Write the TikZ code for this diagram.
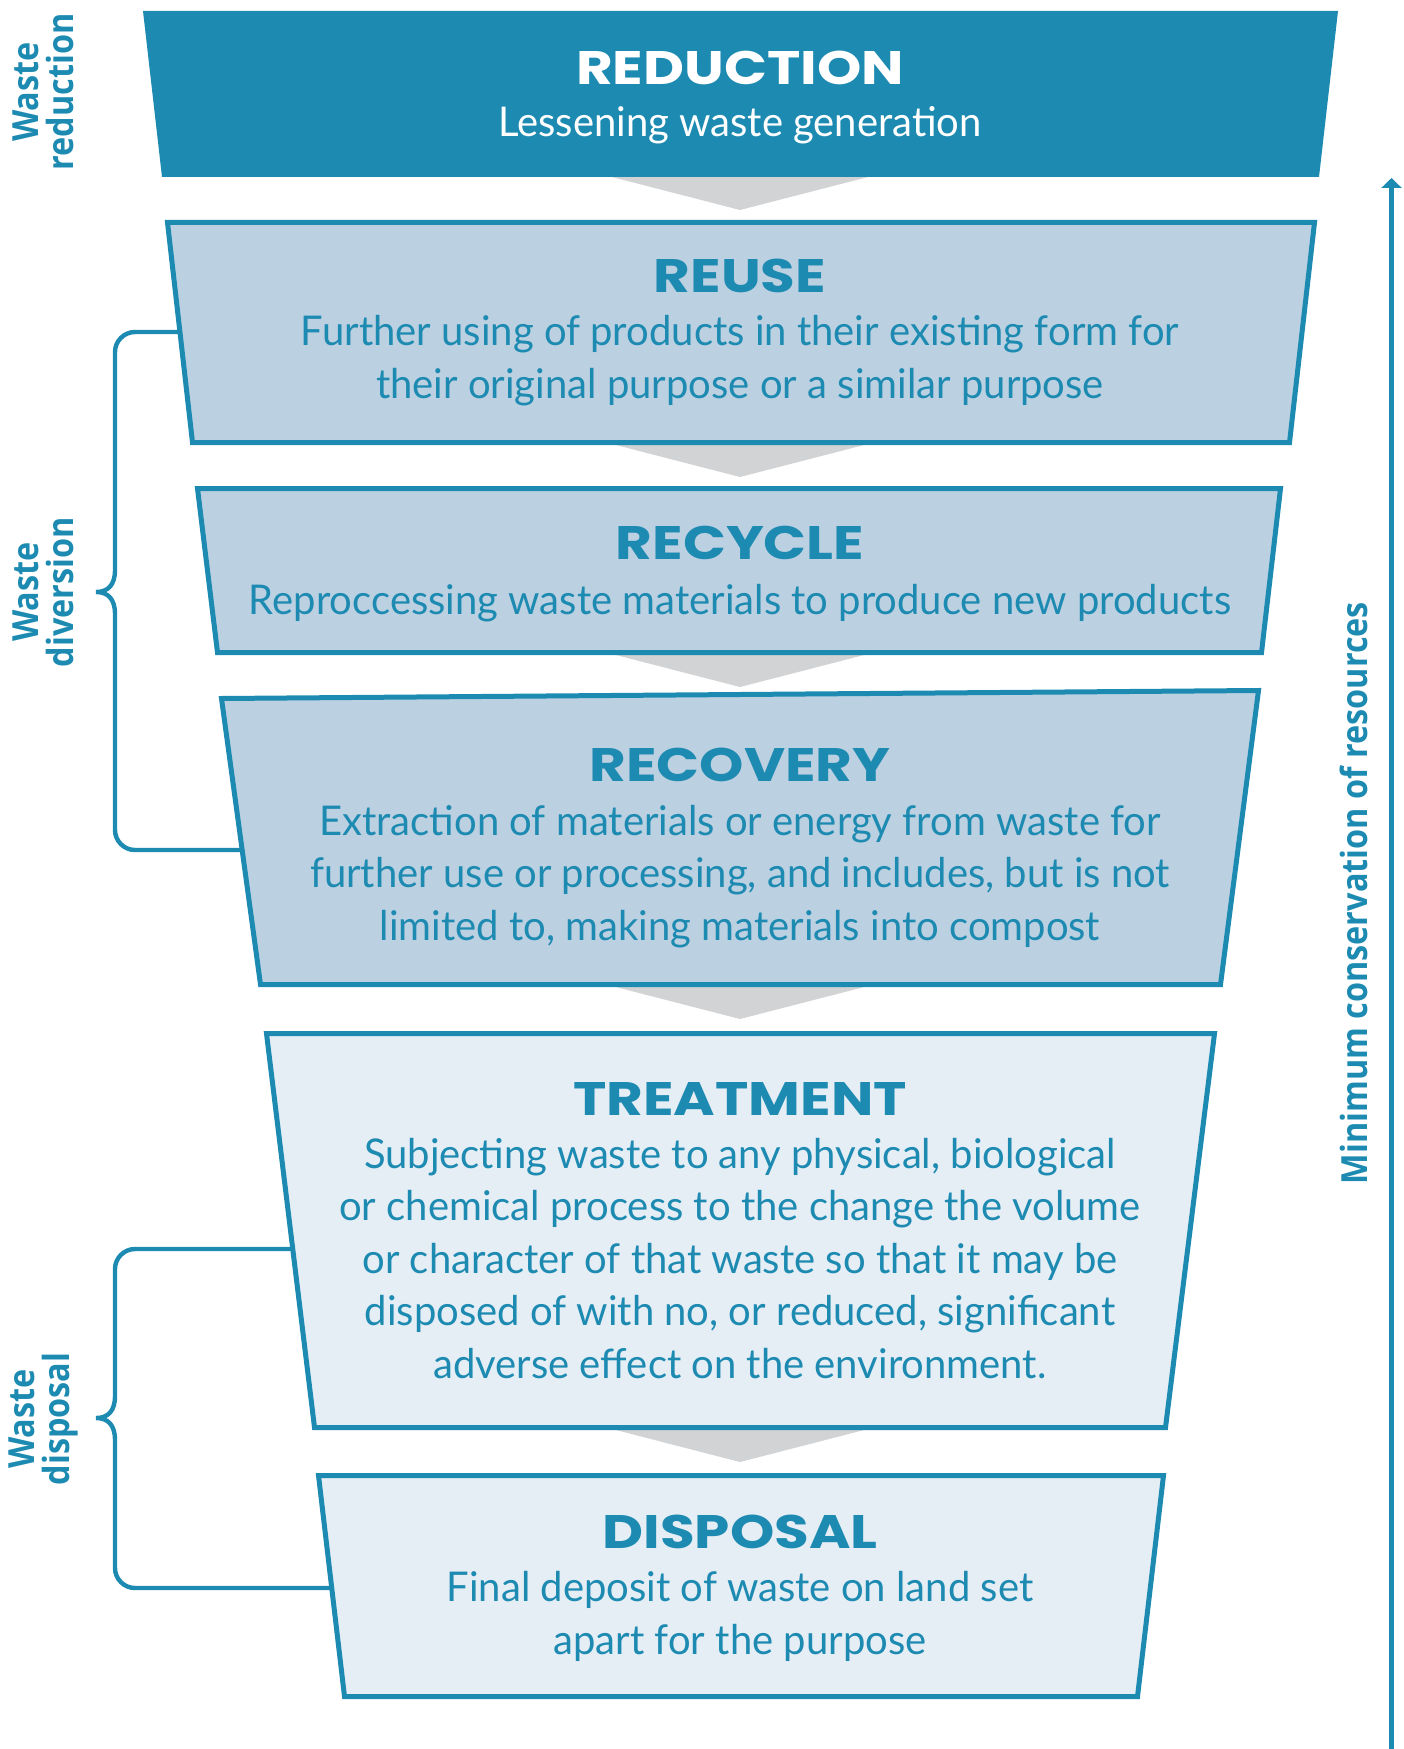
\documentclass[tikz,border=0pt]{standalone}
\usepackage{fontspec}
\setmainfont{Lato}[FakeStretch=0.975]
\newfontfamily\headfont{Poppins}[FakeStretch=1.2]
\newfontfamily\sidefont{Open Sans}[FakeStretch=0.9]
\usetikzlibrary{arrows.meta}
\definecolor{hblue}{HTML}{1D8AB1}
\definecolor{lblue}{HTML}{BBD0E1}
\definecolor{llblue}{HTML}{E5EDF5}
\definecolor{cgray}{HTML}{D1D3D4}
\tikzset{
  boxA/.style={fill=hblue},
  boxB/.style={draw=hblue, line width=2.5pt, fill=lblue},
  boxC/.style={draw=hblue, line width=2.5pt, fill=llblue},
  chev/.style={fill=cgray},
  head/.style={anchor=base, inner sep=0pt, font=\headfont\bfseries\fontsize{23.5}{27}\selectfont},
  body/.style={anchor=base, inner sep=0pt, font=\fontsize{20.5}{26}\selectfont},
  side/.style={rotate=90, align=center, inner sep=0pt, text=hblue, font=\sidefont\bfseries\fontsize{18}{17.5}\selectfont},
  bracel/.style={draw=hblue, line width=2.2pt},
}
\begin{document}
\begin{tikzpicture}[x=0.5pt,y=-0.5pt]
\useasboundingbox (0,0) rectangle (1403,1749);
% chevrons
\fill[chev] (612,177) -- (868,177) -- (740,210) -- cycle;
\fill[chev] (612,444) -- (868,444) -- (740,477) -- cycle;
\fill[chev] (612,654) -- (868,654) -- (740,687) -- cycle;
\fill[chev] (612,986) -- (868,986) -- (740,1019) -- cycle;
\fill[chev] (612,1429) -- (868,1429) -- (740,1462) -- cycle;
% braces
\coordinate (divA) at (181,332);
\coordinate (divB) at (242,850);
\coordinate (dspA) at (292,1249);
\coordinate (dspB) at (332,1588);
\draw[bracel] (divA) -- (135,332) .. controls (124,332) and (115,341) .. (115,352) -- (115,570)
  .. controls (115,585) and (108,592) .. (96,592) .. controls (108,592) and (115,599) .. (115,614)
  -- (115,830) .. controls (115,841) and (124,850) .. (135,850) -- (divB);
\draw[bracel] (dspA) -- (135,1249) .. controls (124,1249) and (115,1258) .. (115,1269) -- (115,1396)
  .. controls (115,1411) and (108,1418) .. (96,1418) .. controls (108,1418) and (115,1425) .. (115,1440)
  -- (115,1568) .. controls (115,1579) and (124,1588) .. (135,1588) -- (dspB);
% boxes
\fill[boxA] (143,11) -- (1338,11) -- (1319,177) -- (162,177) -- cycle;
\draw[boxB] (167.5,222.5) -- (1314.5,222.5) -- (1289.5,442.5) -- (192.5,442.5) -- cycle;
\draw[boxB] (197.5,488.5) -- (1280.5,488.5) -- (1261.5,652.5) -- (217.5,652.5) -- cycle;
\draw[boxB] (221.5,698.5) -- (1258.5,690.5) -- (1220.5,984.5) -- (260.5,984.5) -- cycle;
\draw[boxC] (266.5,1033.5) -- (1214.5,1033.5) -- (1165.5,1427.5) -- (314.5,1427.5) -- cycle;
\draw[boxC] (318.5,1475.5) -- (1163.5,1475.5) -- (1137.5,1696.5) -- (344.5,1696.5) -- cycle;
% texts
\node[head, text=white] (redh) at (740,85) {REDUCTION};
\node[body, text=white] (redb) at (740,137) {Lessening waste generation};
\node[head, text=hblue] (reuh) at (740,293) {REUSE};
\node[body, text=hblue] (reub1) at (740,346) {Further using of products in their existing form for};
\node[body, text=hblue] (reub2) at (740,398) {their original purpose or a similar purpose};
\node[head, text=hblue] (rech) at (740,559) {RECYCLE};
\node[body, text=hblue] (recb) at (740,614) {Reproccessing waste materials to produce new products};
\node[head, text=hblue] (rovh) at (740,781) {RECOVERY};
\node[body, text=hblue] (rovb1) at (740,835) {Extraction of materials or energy from waste for};
\node[body, text=hblue] (rovb2) at (740,887) {further use or processing, and includes, but is not};
\node[body, text=hblue] (rovb3) at (740,940) {limited to, making materials into compost};
\node[head, text=hblue] (treh) at (740,1115) {TREATMENT};
\node[body, text=hblue] (treb1) at (740,1168) {Subjecting waste to any physical, biological};
\node[body, text=hblue] (treb2) at (740,1220) {or chemical process to the change the volume};
\node[body, text=hblue] (treb3) at (740,1273) {or character of that waste so that it may be};
\node[body, text=hblue] (treb4) at (740,1325) {disposed of with no, or reduced, significant};
\node[body, text=hblue] (treb5) at (740,1378) {adverse effect on the environment.};
\node[head, text=hblue] (dish) at (740,1548) {DISPOSAL};
\node[body, text=hblue] (disb1) at (740,1601) {Final deposit of waste on land set};
\node[body, text=hblue] (disb2) at (740,1654) {apart for the purpose};
% side labels
\node[side] (lred) at (43,92) {Waste\\reduction};
\node[side] (ldiv) at (43,592) {Waste\\diversion};
\node[side] (ldis) at (43,1419) {Waste\\disposal};
% arrow
\coordinate (arrB) at (1391.5,1749);
\coordinate (arrT) at (1391.5,178);
\draw[hblue, line width=2.5pt, -{Triangle[width=10pt,length=5pt]}] (arrB) -- (arrT);
\node[side] (lmin) at (1354,893) {Minimum conservation of resources};
\end{tikzpicture}
\end{document}
